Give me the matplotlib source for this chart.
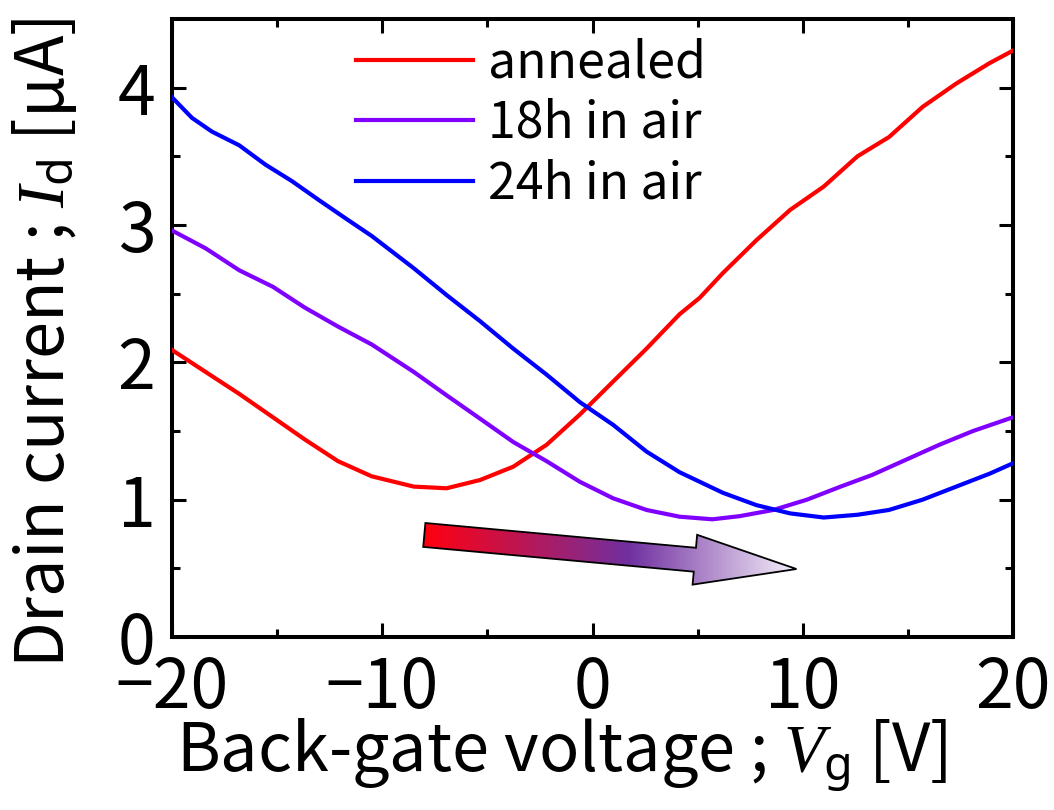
import numpy as np
import matplotlib
matplotlib.use("Agg")
import matplotlib.pyplot as plt
from matplotlib.colors import LinearSegmentedColormap
from matplotlib.patches import Polygon
from matplotlib.transforms import IdentityTransform

plt.rcParams['font.family'] = ['Noto Sans CJK JP', 'DejaVu Sans']
plt.rcParams['mathtext.fontset'] = 'custom'
plt.rcParams['mathtext.it'] = 'Liberation Serif:italic'
plt.rcParams['mathtext.rm'] = 'Noto Sans'

# --- data (Vg in V, Id in uA) ---
vg_annealed = [-20, -18.4, -16.8, -15.2, -13.7, -12.1, -10.5, -8.5, -6.94, -5.35, -3.77,
               -2.18, -0.6, 0.98, 2.57, 4.14, 5.1, 6.2, 7.8, 9.4, 11.0, 12.6, 14.1,
               15.7, 17.3, 18.9, 20]
id_annealed = [2.09, 1.93, 1.77, 1.60, 1.44, 1.28, 1.17, 1.095, 1.083, 1.143, 1.24,
               1.40, 1.62, 1.86, 2.10, 2.35, 2.47, 2.65, 2.89, 3.11, 3.28, 3.50, 3.64,
               3.86, 4.03, 4.18, 4.27]

vg_18h = [-20, -18.4, -16.8, -15.2, -13.7, -12.1, -10.5, -8.5, -6.94, -5.35, -3.77,
          -2.18, -0.6, 0.98, 2.57, 4.14, 5.7, 7.0, 8.6, 10.2, 11.8, 13.3, 14.9, 16.5,
          18.1, 20]
id_18h = [2.96, 2.83, 2.67, 2.55, 2.40, 2.26, 2.13, 1.93, 1.76, 1.59, 1.42,
          1.28, 1.13, 1.01, 0.925, 0.876, 0.857, 0.88, 0.925, 1.00, 1.095, 1.18, 1.29,
          1.40, 1.50, 1.60]

vg_24h = [-20, -19.05, -18.1, -16.8, -15.56, -14.3, -13.0, -11.76, -10.5, -8.5, -6.94,
          -5.35, -3.77, -2.18, -0.6, 0.98, 2.57, 4.14, 6.2, 7.8, 9.4, 11.0, 12.6, 14.1,
          15.7, 17.3, 18.9, 20]
id_24h = [3.93, 3.78, 3.68, 3.58, 3.44, 3.32, 3.18, 3.05, 2.92, 2.685, 2.49,
          2.30, 2.10, 1.91, 1.71, 1.545, 1.35, 1.20, 1.05, 0.96, 0.90, 0.87, 0.89, 0.925,
          1.00, 1.095, 1.19, 1.265]

labels = ["annealed", "18h in air", "24h in air"]
colors = ["#ff0000", "#8000ff", "#0000ff"]

# arrow (data coords)
arrow_start = (-8.0, 0.743)
arrow_end = (9.7, 0.495)

fig = plt.figure(figsize=(10.54, 8.10), dpi=100)
ax = fig.add_axes([172 / 1054, 1 - 637 / 810, 841 / 1054, 618 / 810])

for vg, idd, lab, c in zip([vg_annealed, vg_18h, vg_24h],
                           [id_annealed, id_18h, id_24h], labels, colors):
    ax.plot(vg, idd, color=c, lw=3.0, label=lab, zorder=3,
            solid_joinstyle='round')

ax.set_xlim(-20, 20)
ax.set_ylim(0, 4.5)
ax.set_xticks([-20, -10, 0, 10, 20])
ax.set_xticks([-15, -5, 5, 15], minor=True)
ax.set_yticks([0, 1, 2, 3, 4])
ax.set_yticks([0.5, 1.5, 2.5, 3.5], minor=True)
ax.tick_params(which='both', direction='in', top=True, right=True, width=2.2)
ax.tick_params(which='major', length=10, labelsize=49, pad=12)
ax.tick_params(which='minor', length=6)
for s in ax.spines.values():
    s.set_linewidth(2.9)

ax.set_xlabel("Back-gate voltage ; $V_{\\mathrm{g}}$ [V]", fontsize=48)
ax.set_ylabel("Drain current ; $I_{\\mathrm{d}}$ [μA]", fontsize=48)
ax.xaxis.set_label_coords(0.463, -0.13)
ax.yaxis.set_label_coords(-0.11, 0.476)

ax.legend(loc='upper left', bbox_to_anchor=(0.195, 1.003), frameon=False, fontsize=36,
          handlelength=2.35, handletextpad=0.29, labelspacing=0.17, borderaxespad=0.0)

# gradient arrow, geometry built in pixels so the head is not distorted
p0 = ax.transData.transform(arrow_start)
p1 = ax.transData.transform(arrow_end)
d = p1 - p0
L = np.hypot(*d)
u = d / L
n = np.array([-u[1], u[0]])
shaft_w, head_w, head_l = 24, 50, 102
base = p0 + u * (L - head_l)
verts = [p0 + n * shaft_w / 2, base + n * shaft_w / 2, base + n * head_w / 2, p1,
         base - n * head_w / 2, base - n * shaft_w / 2, p0 - n * shaft_w / 2]
arrow = Polygon(verts, closed=True, transform=IdentityTransform(), facecolor='none',
                edgecolor='black', lw=1.3, zorder=4)
ax.add_patch(arrow)
cmap = LinearSegmentedColormap.from_list(
    "grad", [(0, "#ff0010"), (0.55, "#7030a0"), (1, "#f6f0fa")])
grad = np.linspace(0, 1, 256).reshape(1, -1)
im = ax.imshow(grad, cmap=cmap, aspect='auto', zorder=2,
               extent=[arrow_start[0], arrow_end[0], 0.3, 0.95])
im.set_clip_path(arrow)
ax.set_xlim(-20, 20)
ax.set_ylim(0, 4.5)

fig.savefig("out.png", dpi=100)
